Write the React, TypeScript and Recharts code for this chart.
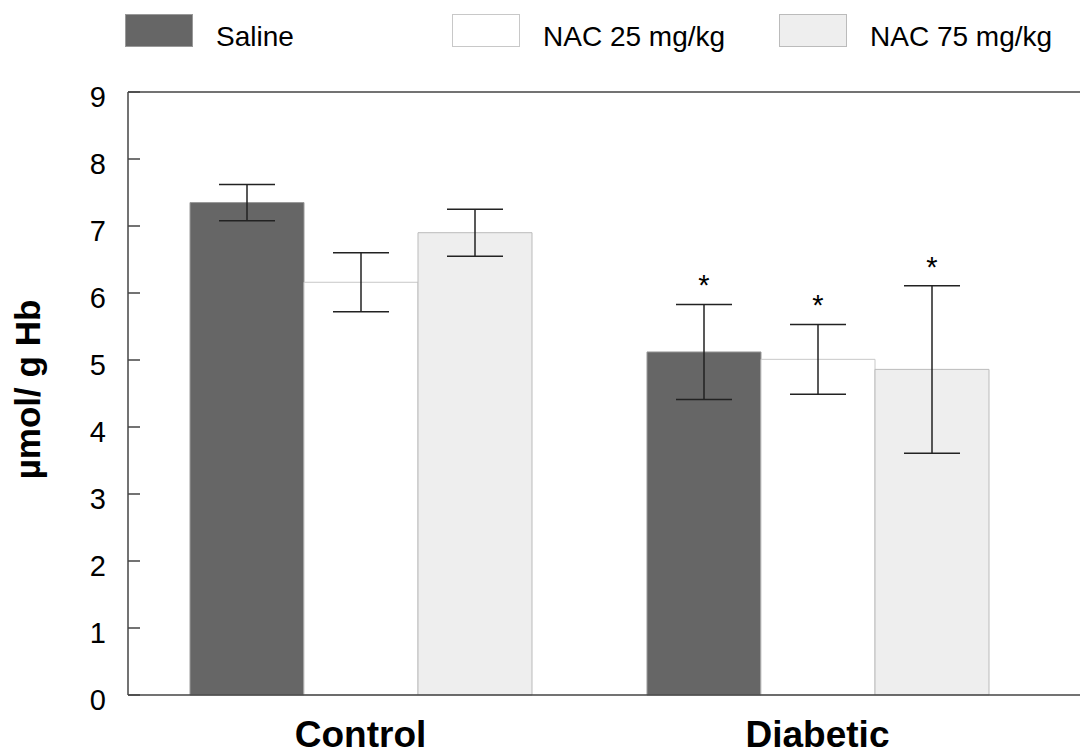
import { BarChart, Bar, XAxis, YAxis, ErrorBar, ReferenceLine, LabelList } from 'recharts';

const GROUPS = ['Control', 'Diabetic'];
const SERIES = ['Saline', 'NAC 25 mg/kg', 'NAC 75 mg/kg'];
const SALINE = [7.35, 5.12];
const NAC25 = [6.16, 5.01];
const NAC75 = [6.9, 4.86];
const SALINE_ERR = [0.27, 0.71];
const NAC25_ERR = [0.44, 0.52];
const NAC75_ERR = [0.35, 1.25];
const SIGNIFICANT = [false, true];
const Y_TICKS = [0, 1, 2, 3, 4, 5, 6, 7, 8, 9];

const FILLS = ['#666666', '#ffffff', '#eeeeee'];
const STROKES = ['#999999', '#c8c8c8', '#bbbbbb'];
const FONT = '"Liberation Sans", Arial, Helvetica, sans-serif';

const data = GROUPS.map((g, i) => ({
  group: g,
  s0: SALINE[i],
  s1: NAC25[i],
  s2: NAC75[i],
  e0: SALINE_ERR[i],
  e1: NAC25_ERR[i],
  e2: NAC75_ERR[i],
}));
const ERRS = [SALINE_ERR, NAC25_ERR, NAC75_ERR];

const YTick = ({ x, y, payload }: any) => (
  <g>
    <text x={x - 22} y={y + 15} textAnchor="end" fontSize={29} fontFamily={FONT} fill="#000">
      {payload.value}
    </text>
    <line x1={x} x2={x + 12} y1={y} y2={y} stroke="#444" strokeWidth={1.5} />
  </g>
);

const XTick = ({ x, y, payload }: any) => (
  <text x={x} y={y + 52} textAnchor="middle" fontSize={37} fontWeight="bold" fontFamily={FONT} fill="#000">
    {payload.value}
  </text>
);

const YLabel = ({ viewBox }: any) => {
  const cy = viewBox.y + viewBox.height / 2 - 4;
  const cx = 40;
  return (
    <text
      x={cx}
      y={cy}
      transform={`rotate(-90, ${cx}, ${cy})`}
      textAnchor="middle"
      fontSize={35}
      fontWeight="bold"
      fontFamily={FONT}
      fill="#000"
    >
      µmol/ g Hb
    </text>
  );
};

const makeStar = (s: number) => (props: any) => {
  const { x, y, width, height, value, index } = props;
  if (!SIGNIFICANT[index] || !value) return null;
  const pxPerUnit = height / value;
  const errTop = y - ERRS[s][index] * pxPerUnit;
  return (
    <text x={x + width / 2} y={errTop - 9} textAnchor="middle" fontSize={29} fontFamily={FONT} fill="#000">
      *
    </text>
  );
};

export default function App() {
  return (
    <div style={{ position: 'absolute', left: 0, top: 0, width: 1080, height: 754, background: '#fff' }}>
      <div style={{ position: 'absolute', left: 125, top: 14, display: 'flex', fontFamily: FONT, fontSize: 28 }}>
        {SERIES.map((name, i) => (
          <div key={name} style={{ width: 327, display: 'flex', alignItems: 'flex-start' }}>
            <div
              style={{
                width: 66,
                height: 31,
                background: FILLS[i],
                border: `1px solid ${STROKES[i]}`,
                marginRight: 23,
              }}
            />
            <span style={{ lineHeight: '33px', marginTop: 6 }}>{name}</span>
          </div>
        ))}
      </div>
      <BarChart
        width={1080}
        height={754}
        data={data}
        margin={{ top: 92, right: 0, left: 0, bottom: 19 }}
        barGap={0}
        barSize={114}
      >
        <XAxis
          dataKey="group"
          height={40}
          padding={{ left: 4, right: 34 }}
          tickLine={false}
          tickSize={0}
          tickMargin={0}
          axisLine={{ stroke: '#444', strokeWidth: 1.5 }}
          tick={<XTick />}
        />
        <YAxis
          width={128}
          domain={[0, 9]}
          ticks={Y_TICKS}
          interval={0}
          tickLine={false}
          tickSize={0}
          tickMargin={0}
          axisLine={{ stroke: '#444', strokeWidth: 1.5 }}
          tick={<YTick />}
          label={<YLabel />}
        />
        <ReferenceLine y={9} stroke="#444" strokeWidth={1.5} />
        {['s0', 's1', 's2'].map((k, i) => (
          <Bar key={k} dataKey={k} name={SERIES[i]} fill={FILLS[i]} stroke={STROKES[i]} strokeWidth={1} isAnimationActive={false}>
            <ErrorBar dataKey={`e${i}`} width={28} stroke="#222" strokeWidth={1.5} direction="y" />
            <LabelList dataKey={k} content={makeStar(i)} />
          </Bar>
        ))}
      </BarChart>
    </div>
  );
}
